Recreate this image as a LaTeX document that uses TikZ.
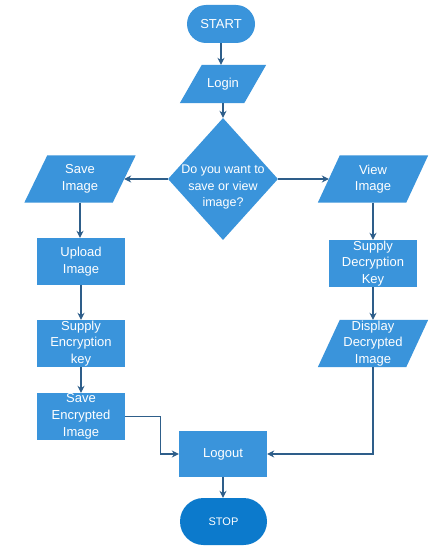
\documentclass[tikz,border=0pt]{standalone}
\usepackage{fontspec}
\setmainfont{Liberation Sans}
\usetikzlibrary{shapes.geometric,shapes.misc,arrows.meta,calc,backgrounds}
\definecolor{boxfill}{RGB}{58,148,219}
\definecolor{stopfill}{RGB}{12,122,204}
\definecolor{linec}{RGB}{46,94,138}
\tikzset{
  base/.style={text=white,align=center,inner sep=0pt,font=\fontsize{13}{16.7}\selectfont},
  proc/.style={base,rectangle,fill=boxfill,minimum width=88pt,minimum height=47pt},
  parabox/.style={base,rectangle,minimum width=88pt,minimum height=47pt},
  term/.style={base,rounded rectangle,fill=boxfill},
  decis/.style={diamond,fill=boxfill,inner sep=0pt,minimum width=110pt,minimum height=122pt},
  conn/.style={draw=linec,line width=1.1pt,-{Stealth[length=7pt,width=7pt]}},
  plain/.style={draw=linec,line width=1.1pt}
}
\newcommand\parafill[2]{\fill[boxfill] ($(#1.north west)+(#2,0)$) -- ($(#1.north east)+(#2,0)$) -- ($(#1.south east)+(-#2,0)$) -- ($(#1.south west)+(-#2,0)$) -- cycle;}
\begin{document}
\begin{tikzpicture}[x=1pt,y=-1pt]
\useasboundingbox (0,0) rectangle (439,551);

\node[term,minimum width=68pt,minimum height=38pt] (start) at (221,24) {START};
\node[parabox,minimum width=64pt,minimum height=38pt] (login) at (223,84) {Login};
\node[decis,label={[base,yshift=-8pt,font=\fontsize{12.5}{16.7}\selectfont]center:Do you want to\\save or view\\image?}] (dec) at (223,179) {};
\node[parabox] (save) at (80,179) {Save\\Image};
\node[parabox] (view) at (373,179) {View\\Image};
\node[proc] (upload) at (81,261.5) {Upload\\Image};
\node[proc] (supenc) at (81,343.5) {Supply\\Encryption\\key};
\node[proc] (saveenc) at (81,416.5) {Save\\Encrypted\\Image};
\node[proc] (supdec) at (373,263.5) {Supply\\Decryption\\Key};
\node[parabox] (disp) at (373,343.5) {Display\\Decrypted\\Image};
\node[proc,minimum height=46pt] (logout) at (223,454) {Logout};
\node[term,fill=stopfill,minimum width=87pt,minimum height=47pt,font=\fontsize{11}{13}\selectfont] (stop) at (223.5,521.5) {STOP};

\begin{scope}[on background layer]
\fill[white] (0,0) rectangle (439,551);
\parafill{login}{11}
\parafill{save}{11.5}
\parafill{view}{11}
\parafill{disp}{11}
\end{scope}

\draw[conn] (start.south) -- (start.south |- login.north);
\draw[conn] (login.south) -- (login.south |- dec.north);
\draw[conn] (dec.west) -- (save.east);
\draw[conn] (dec.east) -- (view.west);
\draw[conn] (save.south) -- (save.south |- upload.north);
\draw[conn] (upload) -- (supenc);
\draw[conn] (supenc) -- (saveenc);
\draw[conn] (view.south) -- (view.south |- supdec.north);
\draw[conn] (supdec) -- (disp);
\draw[conn] (saveenc.east) -- ++(35,0) |- (logout.west);
\draw[conn] (disp.south) |- (logout.east);
\draw[conn] (logout.south) -- (logout.south |- stop.north);
\end{tikzpicture}
\end{document}
